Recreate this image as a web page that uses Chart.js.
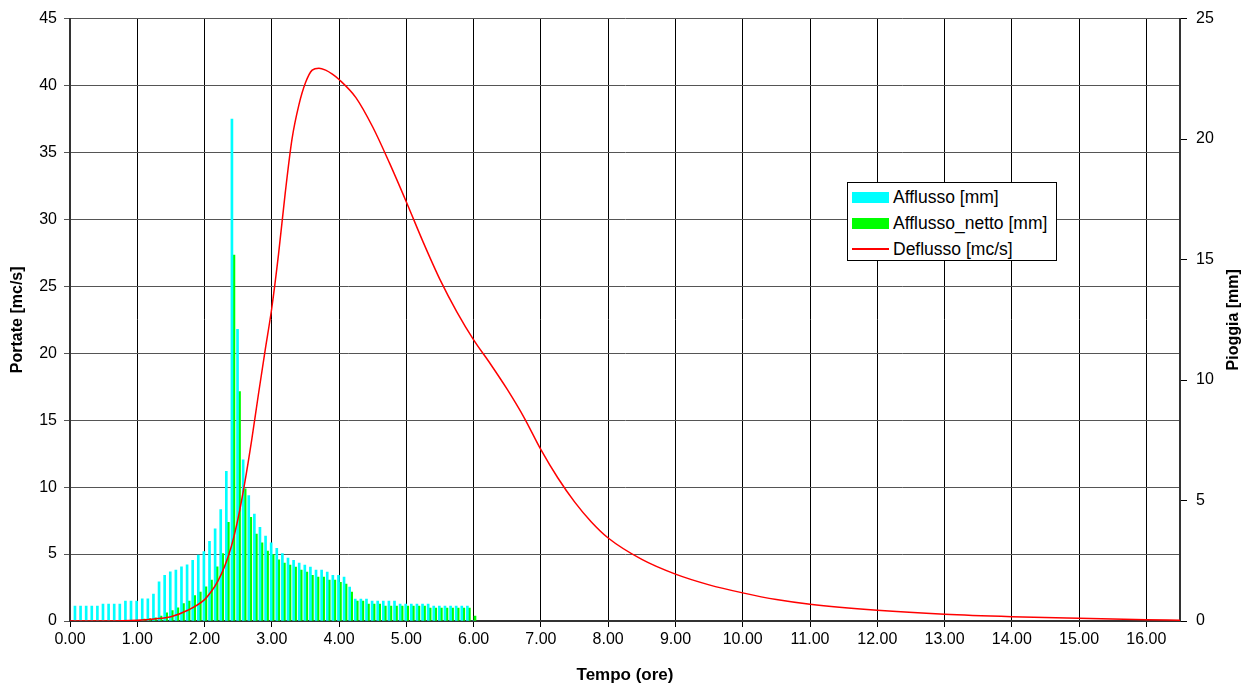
<!DOCTYPE html>
<html lang="it">
<head>
    <meta charset="UTF-8">
    <title>Idrogramma di piena</title>
    <style>
        body {
            margin: 0;
            background: #fff;
            font-family: "Liberation Sans", Arial, sans-serif;
        }

        .wrap {
            position: relative;
            width: 1256px;
            height: 690px;
        }

        /* legend box drawn over the plot, like the Excel one */
        .legend {
            position: absolute;
            left: 847px;
            top: 182px;
            width: 210px;
            height: 79px;
            box-sizing: border-box;
            border: 1px solid #000;
            background: #fff;
            padding-top: 1px;
            font-size: 17.5px;
            color: #000;
        }

        .legend .row {
            display: flex;
            align-items: center;
            height: 26px;
        }

        .legend .sw {
            width: 37px;
            margin-left: 4px;
            margin-right: 4px;
        }
    </style>
    <script src="https://cdn.jsdelivr.net/npm/chart.js"></script>
</head>
<body>
    <div class="wrap">
        <canvas id="chart" width="1256" height="690"></canvas>
        <div class="legend">
            <div class="row"><span class="sw" style="height:11px;background:#00ffff"></span>Afflusso [mm]</div>
            <div class="row"><span class="sw" style="height:11px;background:#00ff00"></span>Afflusso_netto [mm]</div>
            <div class="row"><span class="sw" style="height:2px;background:#ff0000"></span>Deflusso [mc/s]</div>
        </div>
    </div>

    <script>
        // pioggia a passi di 5 minuti (1/12 di ora), valori in mm
        const passo = 1 / 12;
        const afflusso = [
            0.62, 0.62, 0.62, 0.62, 0.62, 0.70, 0.70, 0.70, 0.70, 0.83, 0.83, 0.83,
            0.92, 0.92, 1.12, 1.63, 1.90, 2.04, 2.11, 2.25, 2.33, 2.52, 2.74, 2.88,
            3.31, 3.82, 4.62, 6.21, 20.83, 12.10, 6.69, 5.21, 4.44, 3.89, 3.52, 3.24,
            3.02, 2.80, 2.61, 2.52, 2.40, 2.32, 2.24, 2.11, 2.11, 2.03, 1.90, 1.90,
            1.82, 1.41, 0.91, 0.91, 0.91, 0.83, 0.83, 0.83, 0.83, 0.83, 0.70, 0.70,
            0.70, 0.70, 0.70, 0.70, 0.62, 0.62, 0.62, 0.62, 0.62, 0.62, 0.62, 0
        ];
        const afflussoNetto = [
            0, 0, 0, 0, 0, 0, 0, 0, 0, 0, 0, 0,
            0.08, 0.10, 0.13, 0.20, 0.34, 0.43, 0.55, 0.72, 0.83, 1.05, 1.20, 1.42,
            1.70, 2.25, 2.80, 4.10, 15.19, 9.52, 5.49, 4.30, 3.61, 3.24, 2.90, 2.76,
            2.54, 2.40, 2.32, 2.24, 2.11, 2.03, 1.90, 1.82, 1.82, 1.70, 1.70, 1.61,
            1.53, 1.20, 0.83, 0.83, 0.70, 0.70, 0.70, 0.62, 0.62, 0.62, 0.62, 0.62,
            0.62, 0.62, 0.62, 0.54, 0.54, 0.54, 0.54, 0.54, 0.54, 0.54, 0.54, 0.20
        ];

        // idrogramma di deflusso (ore, mc/s)
        const tempiDeflusso = [
            0, 0.5, 1.0, 1.25, 1.5, 1.75, 2.0, 2.1, 2.2, 2.3, 2.4, 2.5, 2.6, 2.7, 2.8, 2.9,
            3.0, 3.1, 3.2, 3.3, 3.4, 3.5, 3.6, 3.7, 3.8, 3.9, 4.0, 4.25, 4.5, 4.75, 5.0,
            5.25, 5.5, 5.75, 6.0, 6.25, 6.5, 6.75, 7.0, 7.25, 7.5, 7.75, 8.0, 8.5, 9.0,
            9.5, 10, 10.5, 11, 12, 13, 14, 15, 16, 16.5
        ];
        const deflusso = [
            0, 0, 0.05, 0.15, 0.32, 0.8, 1.6, 2.2, 3.0, 4.1, 5.6, 7.7, 10.4, 13.5, 16.9, 20.2,
            23.4, 27.4, 32.0, 36.0, 38.5, 40.2, 41.15, 41.3, 41.15, 40.85, 40.45, 39.1, 36.9, 34.2, 31.3,
            28.3, 25.5, 23.1, 21.0, 19.2, 17.3, 15.2, 12.8, 10.7, 8.9, 7.4, 6.2, 4.6, 3.5,
            2.7, 2.1, 1.6, 1.25, 0.8, 0.5, 0.32, 0.2, 0.1, 0.06
        ];

        const tempoMax = 16.5;
        const portateMax = 45;
        const pioggiaMax = 25;
        // in Excel le coppie di barre partono dall'istante, non ci sono centrate
        const spostamentoBarre = 0.035;

        const famiglia = '"Liberation Sans", Arial, sans-serif';
        const font = { family: famiglia, size: 16 };
        const fontBold = { family: famiglia, size: 16, weight: 'bold' };

        const barre = serie => serie.map((v, i) => ({ x: (i + 1) * passo, y: v }));

        // titolo dell'asse destro letto dal basso verso l'alto, come quello sinistro
        const titoloDestro = {
            id: 'titoloDestro',
            afterDraw(chart) {
                const s = chart.scales.y1;
                const area = chart.chartArea;
                const ctx = chart.ctx;
                ctx.save();
                ctx.translate(s.right - 22, (area.top + area.bottom) / 2);
                ctx.rotate(-Math.PI / 2);
                ctx.font = 'bold 16px ' + famiglia;
                ctx.fillStyle = '#000';
                ctx.textAlign = 'center';
                ctx.textBaseline = 'middle';
                ctx.fillText('Pioggia [mm]', 0, 0);
                ctx.restore();
            }
        };

        new Chart(document.getElementById('chart'), {
            type: 'bar',
            data: {
                datasets: [
                    {
                        label: 'Afflusso [mm]',
                        data: barre(afflusso),
                        backgroundColor: '#00ffff',
                        barThickness: 2,
                        xAxisID: 'xb',
                        yAxisID: 'y1',
                        order: 1
                    },
                    {
                        label: 'Afflusso_netto [mm]',
                        data: barre(afflussoNetto),
                        backgroundColor: '#00ff00',
                        barThickness: 2,
                        xAxisID: 'xb',
                        yAxisID: 'y1',
                        order: 1
                    },
                    {
                        type: 'line',
                        label: 'Deflusso [mc/s]',
                        data: tempiDeflusso.map((t, i) => ({ x: t, y: deflusso[i] })),
                        borderColor: '#ff0000',
                        borderWidth: 1.5,
                        pointRadius: 0,
                        cubicInterpolationMode: 'monotone',
                        xAxisID: 'x',
                        yAxisID: 'y',
                        order: 0
                    }
                ]
            },
            options: {
                responsive: false,
                animation: false,
                layout: { padding: { top: 17, left: 0, right: 0, bottom: 0 } },
                plugins: {
                    legend: { display: false },
                    tooltip: { enabled: false }
                },
                scales: {
                    x: {
                        type: 'linear',
                        min: 0,
                        max: tempoMax,
                        offset: false,
                        grid: { offset: false, color: '#000', tickLength: 6 },
                        border: { color: '#333', width: 2 },
                        ticks: {
                            stepSize: 1,
                            includeBounds: false,
                            maxRotation: 0,
                            padding: 3,
                            color: '#000',
                            font: font,
                            callback: v => v.toFixed(2)
                        },
                        title: { display: true, text: 'Tempo (ore)', color: '#000', font: { family: famiglia, size: 17, weight: 'bold' }, padding: { top: 0, bottom: 4 } },
                        afterFit: s => { s.height = 69; }
                    },
                    xb: {
                        type: 'linear',
                        display: false,
                        min: -spostamentoBarre,
                        max: tempoMax - spostamentoBarre,
                        offset: false,
                        grid: { offset: false }
                    },
                    y: {
                        position: 'left',
                        min: 0,
                        max: portateMax,
                        grid: { color: '#555', tickLength: 6 },
                        border: { color: '#333', width: 2 },
                        ticks: { stepSize: 5, padding: 7, color: '#000', font: font },
                        title: { display: true, text: 'Portate [mc/s]', color: '#000', font: fontBold, padding: { top: 8, bottom: 0 } },
                        afterFit: s => { s.width = 70; }
                    },
                    y1: {
                        position: 'right',
                        min: 0,
                        max: pioggiaMax,
                        grid: { drawOnChartArea: false, color: '#000', tickLength: 7 },
                        border: { color: '#333', width: 2 },
                        ticks: { stepSize: 5, padding: 9, color: '#000', font: font },
                        afterFit: s => { s.width = 76; }
                    }
                }
            },
            plugins: [titoloDestro]
        });
    </script>
</body>
</html>
